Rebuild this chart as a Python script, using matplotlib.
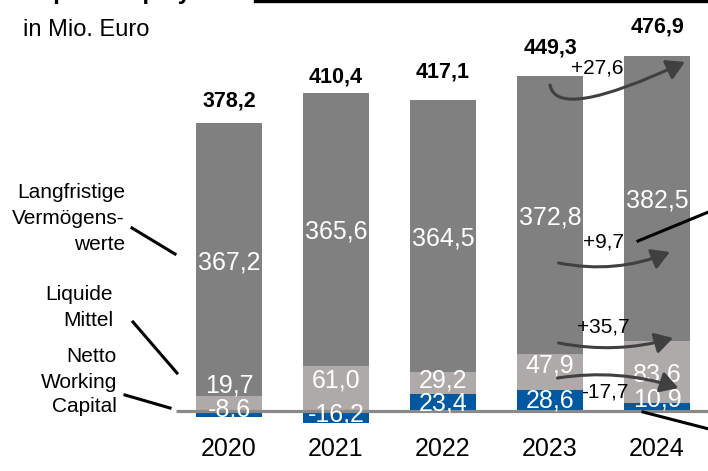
import matplotlib
matplotlib.use("Agg")
import matplotlib.pyplot as plt
from matplotlib.patches import FancyArrowPatch
from matplotlib.lines import Line2D
import numpy as np

plt.rcParams['font.family'] = ['Liberation Sans', 'DejaVu Sans']

# Werte in Mio. Euro
years = ['2020', '2021', '2022', '2023', '2024']
langfristig = [367.2, 365.6, 364.5, 372.8, 382.5]
liquide = [19.7, 61.0, 29.2, 47.9, 83.6]
nwc = [-8.6, -16.2, 23.4, 28.6, 10.9]
totals = [378.2, 410.4, 417.1, 449.3, 476.9]
deltas = ['+27,6', '+9,7', '+35,7', '-17,7']

DARK = '#808080'
LIGHT = '#aeaaa9'
BLUE = '#0059a0'
ARROW = '#404040'

W, H = 708, 471
KY = 0.745          # pixel pro Mio. Euro
fig = plt.figure(figsize=(W / 100, H / 100), dpi=100)
ax = fig.add_axes([0, 0, 1, 1])
ax.set_xlim(-229 / 107, (W - 229) / 107)
ax.set_ylim(-(H - 411) / KY, 411 / KY)
ax.axis('off')


def fp(x, y):
    # pixel (von oben links) -> figure fraction
    return x / W, 1 - y / H


def fmt(v):
    return ('%.1f' % v).replace('.', ',')


x = np.arange(len(years))
bw = 0.615
nwc = np.array(nwc)
liquide = np.array(liquide)
langfristig = np.array(langfristig)

nwc_pos = np.where(nwc > 0, nwc, 0)
ax.bar(x, nwc, bw, color=BLUE, zorder=2)
ax.bar(x, liquide, bw, bottom=nwc_pos, color=LIGHT, zorder=2)
ax.bar(x, langfristig, bw, bottom=nwc_pos + liquide, color=DARK, zorder=2)

# Nulllinie
ax.plot([-0.495, 5], [0, 0], color='#8a8a8a', lw=2.3, zorder=3, solid_capstyle='butt')

# Beschriftungen in den Balken (kleine Verschiebungen in Pixel)
liq_nudge = [21, 10, 5, 9, 0]
nwc_nudge = [7, 5, 1, 2, 10]
for i in range(len(years)):
    yd = nwc_pos[i] + liquide[i] + langfristig[i] / 2
    ax.text(x[i], yd, fmt(langfristig[i]), color='white', fontsize=18,
            ha='center', va='center_baseline', zorder=4)
    yl = nwc_pos[i] + liquide[i] / 2 + liq_nudge[i] / KY
    ax.text(x[i], yl, fmt(liquide[i]), color='white', fontsize=18,
            ha='center', va='center_baseline', zorder=4)
    yn = nwc[i] / 2 + nwc_nudge[i] / KY
    ax.text(x[i], yn, fmt(nwc[i]), color='white', fontsize=18,
            ha='center', va='center_baseline', zorder=4)
    ax.text(x[i], totals[i] + 31 / KY, fmt(totals[i]), color='black', fontsize=15.5,
            fontweight='bold', ha='center', va='center_baseline', zorder=4)
    ax.text(x[i], -36 / KY, years[i], color='black', fontsize=18,
            ha='center', va='center_baseline')

# Veraenderungspfeile 2023 -> 2024
arrows = [((3.0, 437.6), (4.26, 468.5), 'angle3,angleA=-80,angleB=25'),
          ((3.08, 198.7), (4.12, 213.4), 'arc3,rad=0.15'),
          ((3.08, 91.3), (4.15, 98.0), 'arc3,rad=0.12'),
          ((3.07, 44.3), (4.20, 30.9), 'arc3,rad=-0.12')]
for (p0, p1, cs) in arrows:
    a = FancyArrowPatch(p0, p1, connectionstyle=cs,
                        arrowstyle='-|>,head_length=0.6,head_width=0.35',
                        mutation_scale=18, color=ARROW, lw=2.2,
                        shrinkA=0, shrinkB=0, zorder=5)
    ax.add_patch(a)

delta_pos = [(597, 66), (604, 240), (603, 325), (605, 390)]
for txt, (px, py) in zip(deltas, delta_pos):
    fig.text(*fp(px, py), txt, fontsize=15, ha='center', va='center_baseline', zorder=6)

# Legende links mit Linien
fig.text(*fp(125, 190), 'Langfristige', fontsize=15, ha='right', va='center_baseline')
fig.text(*fp(125, 216), 'Vermögens-', fontsize=15, ha='right', va='center_baseline')
fig.text(*fp(125, 242), 'werte', fontsize=15, ha='right', va='center_baseline')
fig.text(*fp(113, 293), 'Liquide', fontsize=15, ha='right', va='center_baseline')
fig.text(*fp(113, 318), 'Mittel', fontsize=15, ha='right', va='center_baseline')
fig.text(*fp(117, 355), 'Netto', fontsize=15, ha='right', va='center_baseline')
fig.text(*fp(117, 380), 'Working', fontsize=15, ha='right', va='center_baseline')
fig.text(*fp(117, 405), 'Capital', fontsize=15, ha='right', va='center_baseline')

leaders = [((132, 228), (175, 254)),
           ((133, 322), (177, 373)),
           ((125, 395), (170, 408)),
           ((638, 241), (740, 199)),
           ((643, 412), (740, 437))]
for (a, b) in leaders:
    (x0, y0), (x1, y1) = fp(*a), fp(*b)
    fig.add_artist(Line2D([x0, x1], [y0, y1], color='black', lw=2.2))

# Kopf (im Original oben abgeschnitten)
fig.text(*fp(23, -1), 'Capital employed', fontsize=17, fontweight='bold',
         ha='left', va='baseline')
(x0, y0), (x1, y1) = fp(255, 1), fp(710, 1)
fig.add_artist(Line2D([x0, x1], [y0, y1], color='black', lw=2.4))
fig.text(*fp(23, 28), 'in Mio. Euro', fontsize=17, ha='left', va='center_baseline')

plt.savefig('out.png', dpi=100)
